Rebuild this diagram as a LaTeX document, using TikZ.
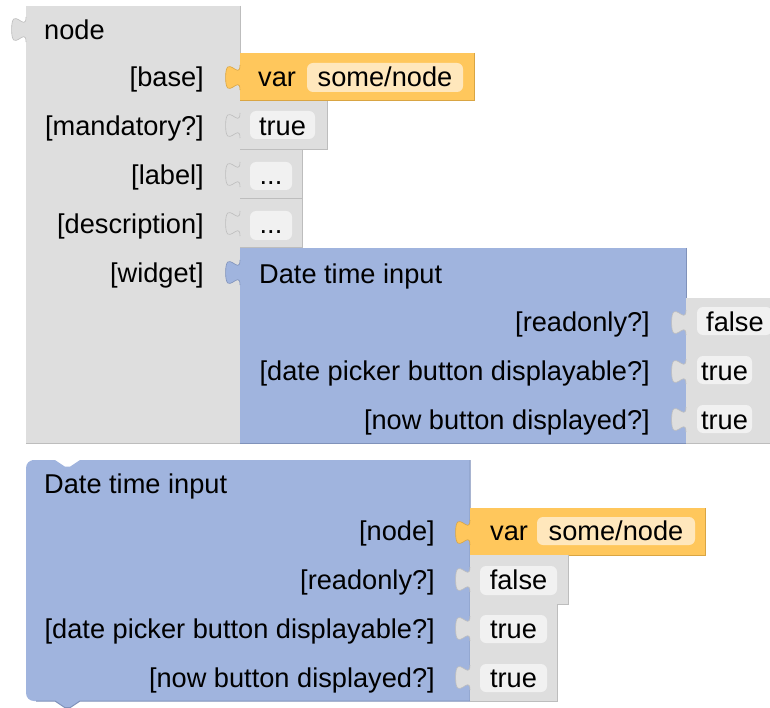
\documentclass[tikz,border=0pt]{standalone}
\usepackage{fontspec}
\setmainfont{Liberation Sans}
\definecolor{gfill}{HTML}{DEDEDE}
\definecolor{gedge}{HTML}{BDBDBD}
\definecolor{gpill}{HTML}{F1F1F1}
\definecolor{bfill}{HTML}{A0B4DE}
\definecolor{bedge}{HTML}{8092BA}
\definecolor{ofill}{HTML}{FFC75C}
\definecolor{oedge}{HTML}{D9A543}
\definecolor{opill}{HTML}{FFE7BC}
\tikzset{
  lbl/.style={font=\fontsize{27.2}{32}\selectfont, inner sep=0pt, text=black, yshift=-5.5pt},
  pillbox/.style={fill=#1, rounded corners=6pt},
}
% block rectangle: x1 y1 x2 y2 fill edge
\newcommand\blkrect[6]{%
  \fill[#5] (#1,#2) rectangle (#3,#4);
  \draw[#6, line width=1pt] (#3,#2) -- (#3,#4) -- (#1,#4);}
% output tab: x y(top) fill edge
\newcommand\tabat[4]{%
  \begin{scope}[shift={(#1,#2)},xscale=1.8,yscale=1.667]
  \fill[#3] (1,0) -- (0,0) .. controls (0,10) and (-8,-8) .. (-8,7.5) .. controls (-8,23) and (0,5) .. (0,15) -- (1,15) -- cycle;
  \draw[#4, line width=0.6pt] (0,0) .. controls (0,10) and (-8,-8) .. (-8,7.5) .. controls (-8,23) and (0,5) .. (0,15);
  \end{scope}}
\begin{document}
\begin{tikzpicture}[x=1pt,y=-1pt]
\clip (0,0) rectangle (770,708);
\fill[white] (0,0) rectangle (770,708);

% ===== top "node" block =====
\blkrect{26}{6}{240}{443}{gfill}{gedge}
\tabat{26}{17}{gfill}{gedge}
\node[lbl, anchor=mid west] (tnode) at (44,31.5) {node};
\node[lbl, anchor=mid east] (tbase) at (204,78.5) {[base]};
\node[lbl, anchor=mid east] (tmand) at (204,127.5) {[mandatory?]};
\node[lbl, anchor=mid east] (tlabel) at (204,176.5) {[label]};
\node[lbl, anchor=mid east] (tdesc) at (204,225.5) {[description]};
\node[lbl, anchor=mid east] (twidg) at (204,274.5) {[widget]};

% base: var some/node
\blkrect{240}{53}{474}{101}{ofill}{oedge}
\tabat{240}{65}{ofill}{oedge}
\fill[pillbox=opill] (307,63) rectangle (463,92);
\node[lbl, anchor=mid west] (tvar) at (258,78.5) {var};
\node[lbl, anchor=mid] (tvarname) at (385,78.5) {some/node};

% mandatory: true
\blkrect{240}{101}{327}{150}{gfill}{gedge}
\tabat{240}{113}{gfill}{gedge}
\fill[pillbox=gpill] (250,111) rectangle (315,139);
\node[lbl, anchor=mid] (ttrue) at (282.5,127.5) {true};

% label: ...
\blkrect{240}{150}{302}{199}{gfill}{gedge}
\tabat{240}{162}{gfill}{gedge}
\fill[pillbox=gpill] (250,162) rectangle (292,190);
\node[lbl, anchor=mid] (tdots1) at (271,176.5) {...};

% description: ...
\blkrect{240}{199}{302}{248}{gfill}{gedge}
\tabat{240}{211}{gfill}{gedge}
\fill[pillbox=gpill] (250,211) rectangle (292,240);
\node[lbl, anchor=mid] (tdots2) at (271,225.5) {...};

% widget: Date time input
\blkrect{240}{248}{686}{443}{bfill}{bedge}
\tabat{240}{260}{bfill}{bedge}
\node[lbl, anchor=mid west] (wtitle) at (259,275) {Date time input};
\node[lbl, anchor=mid east] (wro) at (650,323.5) {[readonly?]};
\node[lbl, anchor=mid east] (wdp) at (650,372.5) {[date picker button displayable?]};
\node[lbl, anchor=mid east] (wnow) at (650,421) {[now button displayed?]};

\blkrect{686}{298}{790}{347}{gfill}{gedge}
\tabat{686}{310}{gfill}{gedge}
\fill[pillbox=gpill] (697,307) rectangle (772,335);
\node[lbl, anchor=mid west] (wfalse) at (706,323.5) {false};

\blkrect{686}{347}{790}{395}{gfill}{gedge}
\tabat{686}{359}{gfill}{gedge}
\fill[pillbox=gpill] (697,356) rectangle (752,384);
\node[lbl, anchor=mid] (wtrue1) at (724.5,372.5) {true};

\blkrect{686}{395}{790}{443}{gfill}{gedge}
\tabat{686}{407}{gfill}{gedge}
\fill[pillbox=gpill] (697,405) rectangle (752,433);
\node[lbl, anchor=mid] (wtrue2) at (724.5,421) {true};

% ===== bottom "Date time input" block =====
\fill[bfill] (26,580) [rounded corners=8pt] -- (26,460) -- (40,460) [sharp corners] -- (55,460) -- (65,466.7) -- (70,466.7) -- (80,460) -- (470,460) -- (470,701) -- (80,701) -- (70,707.7) -- (65,707.7) -- (55,701) -- (40,701) [rounded corners=8pt] -- (26,701) -- (26,580) -- cycle;
\draw[bedge, line width=1pt] (470,460) -- (470,701) -- (80,701) -- (70,707.7) -- (65,707.7) -- (55,701) -- (36,701);
\node[lbl, anchor=mid west] (btitle) at (44,485) {Date time input};
\node[lbl, anchor=mid east] (bnode) at (435,532) {[node]};
\node[lbl, anchor=mid east] (bro) at (435,581) {[readonly?]};
\node[lbl, anchor=mid east] (bdp) at (435,630) {[date picker button displayable?]};
\node[lbl, anchor=mid east] (bnow) at (435,679) {[now button displayed?]};

\blkrect{470}{508}{705}{555}{ofill}{oedge}
\tabat{470}{520}{ofill}{oedge}
\fill[pillbox=opill] (537,517) rectangle (695,545);
\node[lbl, anchor=mid west] (bvar) at (490,532) {var};
\node[lbl, anchor=mid] (bvarname) at (616,532) {some/node};

\blkrect{470}{555}{568}{604}{gfill}{gedge}
\tabat{470}{567}{gfill}{gedge}
\fill[pillbox=gpill] (480,566) rectangle (557,595);
\node[lbl, anchor=mid] (bfalse) at (518.5,581) {false};

\blkrect{470}{604}{557}{653}{gfill}{gedge}
\tabat{470}{616}{gfill}{gedge}
\fill[pillbox=gpill] (480,615) rectangle (547,643);
\node[lbl, anchor=mid] (btrue1) at (513.5,630) {true};

\blkrect{470}{653}{557}{701}{gfill}{gedge}
\tabat{470}{665}{gfill}{gedge}
\fill[pillbox=gpill] (480,664) rectangle (547,692);
\node[lbl, anchor=mid] (btrue2) at (513.5,679) {true};
\end{tikzpicture}
\end{document}
